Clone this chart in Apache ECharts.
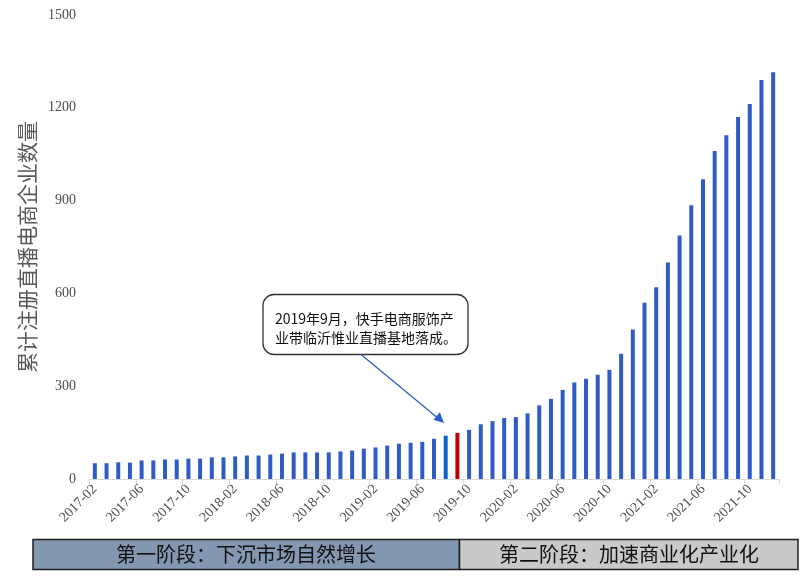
<!DOCTYPE html>
<html>
<head>
<meta charset="utf-8">
<script src="https://cdn.jsdelivr.net/npm/echarts@6/dist/echarts.min.js"></script>
<style>
html,body{margin:0;padding:0;background:#fff;}
#c{width:800px;height:580px;}
</style>
</head>
<body>
<div id="c"></div>
<script>
const months = [
 '2017-02','2017-03','2017-04','2017-05','2017-06','2017-07','2017-08','2017-09','2017-10','2017-11','2017-12',
 '2018-01','2018-02','2018-03','2018-04','2018-05','2018-06','2018-07','2018-08','2018-09','2018-10','2018-11','2018-12',
 '2019-01','2019-02','2019-03','2019-04','2019-05','2019-06','2019-07','2019-08','2019-09','2019-10','2019-11','2019-12',
 '2020-01','2020-02','2020-03','2020-04','2020-05','2020-06','2020-07','2020-08','2020-09','2020-10','2020-11','2020-12',
 '2021-01','2021-02','2021-03','2021-04','2021-05','2021-06','2021-07','2021-08','2021-09','2021-10','2021-11','2021-12'
];
const counts = [
 51,51,54,53,60,60,63,63,66,66,70,
 70,73,76,76,79,82,86,86,86,86,89,92,
 98,102,108,114,117,120,130,140,149,159,177,187,
 197,200,212,238,259,288,312,324,337,353,405,483,
 570,620,700,787,885,969,1060,1111,1170,1212,1290,1315
];
const yTicks = [0,300,600,900,1200,1500];
const highlightMonth = '2019-09';
const preMonth = '2019-08';
const yTitle = '累计注册直播电商企业数量';
const noteLines = ['2019年9月，快手电商服饰产','业带临沂惟业直播基地落成。'];
const phase1 = '第一阶段：下沉市场自然增长';
const phase2 = '第二阶段：加速商业化产业化';

const chart = echarts.init(document.getElementById('c'), null, {renderer:'canvas'});
const serif = '"Liberation Serif","DejaVu Serif",serif';
const cjk = '"Noto Sans CJK SC","Noto Sans",sans-serif';

chart.setOption({
  animation:false,
  grid:{left:89,right:21,top:15,bottom:101,containLabel:false},
  xAxis:{
    type:'category',
    data:months,
    boundaryGap:true,
    axisLine:{lineStyle:{color:'#d9d9d9',width:1}},
    axisTick:{show:true,interval:3,length:5,lineStyle:{color:'#d9d9d9'}},
    axisLabel:{interval:3,rotate:45,fontFamily:serif,fontSize:14,color:'#4d4d4d',margin:8}
  },
  yAxis:{
    type:'value',
    min:yTicks[0],max:yTicks[yTicks.length-1],interval:300,
    name:yTitle,nameLocation:'middle',nameGap:49,nameRotate:90,
    nameTextStyle:{fontFamily:cjk,fontSize:21,color:'#595959'},
    axisLine:{show:false},axisTick:{show:false},
    splitLine:{show:false},
    axisLabel:{fontFamily:serif,fontSize:14,color:'#4d4d4d',margin:13,formatter:function(v){return String(v);}}
  },
  series:[{
    type:'bar',
    data:counts,
    barWidth:4,
    itemStyle:{
      color:function(p){
        const m = months[p.dataIndex];
        if(m===highlightMonth) return '#c00000';
        if(m===preMonth) return '#0b63c4';
        return '#2f5bc6';
      }
    }
  }],
  graphic:[
    {type:'rect',shape:{x:263,y:294.5,width:205,height:60,r:11},
     style:{fill:'#fff',stroke:'#333',lineWidth:1.3},z:10},
    {type:'text',style:{x:275,y:309,text:noteLines.join('\n'),fontFamily:cjk,fontSize:14,lineHeight:19,fill:'#111'},z:11},
    {type:'line',shape:{x1:361,y1:354.5,x2:442,y2:421.5},style:{stroke:'#2f5bc6',lineWidth:1.3},z:10},
    {type:'polygon',shape:{points:[[444,423],[433.5,419.8],[439.8,412.3]]},style:{fill:'#2f5bc6'},z:10},
    {type:'rect',shape:{x:33,y:539.5,width:426.5,height:30},style:{fill:'#8497b0',stroke:'#1f1f1f',lineWidth:1.5},z:10},
    {type:'rect',shape:{x:459.5,y:539.5,width:338.5,height:30},style:{fill:'#c9c9c9',stroke:'#1f1f1f',lineWidth:1.5},z:10},
    {type:'text',style:{x:246,y:554.5,text:phase1,align:'center',verticalAlign:'middle',fontFamily:cjk,fontSize:20,fill:'#111'},z:11},
    {type:'text',style:{x:629,y:554.5,text:phase2,align:'center',verticalAlign:'middle',fontFamily:cjk,fontSize:20,fill:'#111'},z:11}
  ]
});
</script>
</body>
</html>
